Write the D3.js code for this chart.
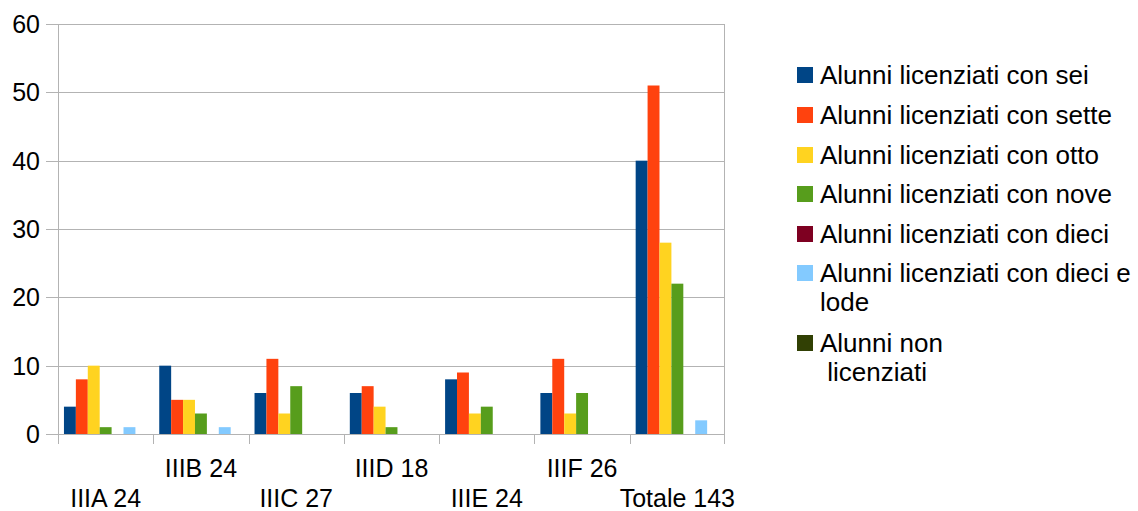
<!DOCTYPE html>
<html>
<head>
<meta charset="utf-8">
<script src="https://cdn.jsdelivr.net/npm/d3@7"></script>
<style>
  body { margin: 0; background: #fff; }
  text { font-family: "Liberation Sans", Arial, sans-serif; fill: #000; }
</style>
</head>
<body>
<script>
const categories = ["IIIA 24", "IIIB 24", "IIIC 27", "IIID 18", "IIIE 24", "IIIF 26", "Totale 143"];
const seriesNames = [
  "Alunni licenziati con sei",
  "Alunni licenziati con sette",
  "Alunni licenziati con otto",
  "Alunni licenziati con nove",
  "Alunni licenziati con dieci",
  "Alunni licenziati con dieci e lode",
  "Alunni non licenziati"
];
const sei    = [4, 10, 6, 6, 8, 6, 40];
const sette  = [8, 5, 11, 7, 9, 11, 51];
const otto   = [10, 5, 3, 4, 3, 3, 28];
const nove   = [1, 3, 7, 1, 4, 6, 22];
const dieci  = [0, 0, 0, 0, 0, 0, 0];
const lode   = [1, 1, 0, 0, 0, 0, 2];
const nonLic = [0, 0, 0, 0, 0, 0, 0];
const yTicks = [0, 10, 20, 30, 40, 50, 60];
const colors = ["#004586", "#ff420e", "#ffd320", "#579d1c", "#7e0021", "#83caff", "#314004"];

const series = [sei, sette, otto, nove, dieci, lode, nonLic];
// legend entries wrap the way the original does
const legendLines = [
  ["Alunni licenziati con sei"],
  ["Alunni licenziati con sette"],
  ["Alunni licenziati con otto"],
  ["Alunni licenziati con nove"],
  ["Alunni licenziati con dieci"],
  ["Alunni licenziati con dieci e", "lode"],
  ["Alunni non", " licenziati"]
];

const w = 1138, h = 511;
const plotLeft = 58, plotRight = 725, plotTop = 24, plotBottom = 434;

const svg = d3.select("body").append("svg")
  .attr("width", w)
  .attr("height", h);

const x = d3.scaleBand()
  .domain(categories)
  .range([plotLeft, plotRight])
  .paddingInner(0)
  .paddingOuter(0);

const sx = d3.scaleBand()
  .domain(d3.range(series.length))
  .range([0, x.bandwidth()])
  .paddingOuter(0.5)
  .paddingInner(0);

const y = d3.scaleLinear()
  .domain([0, 60])
  .range([plotBottom, plotTop]);

// gridlines (with the little tick to the left)
svg.append("g")
  .selectAll("line")
  .data(yTicks)
  .enter()
  .append("line")
  .attr("x1", plotLeft - 12)
  .attr("x2", plotRight)
  .attr("y1", d => Math.round(y(d)) + 0.5)
  .attr("y2", d => Math.round(y(d)) + 0.5)
  .attr("stroke", "#b3b3b3")
  .attr("stroke-width", 1);

// y axis line and right border
svg.append("line")
  .attr("x1", plotLeft + 0.5).attr("x2", plotLeft + 0.5)
  .attr("y1", plotTop).attr("y2", plotBottom)
  .attr("stroke", "#b3b3b3");
svg.append("line")
  .attr("x1", plotRight - 0.5).attr("x2", plotRight - 0.5)
  .attr("y1", plotTop).attr("y2", plotBottom)
  .attr("stroke", "#b3b3b3");

// y labels
svg.append("g")
  .selectAll("text")
  .data(yTicks)
  .enter()
  .append("text")
  .attr("x", 40)
  .attr("y", d => y(d) + 9)
  .attr("text-anchor", "end")
  .style("font-size", "25px")
  .text(d => d);

// bars
series.forEach((vals, si) => {
  svg.append("g")
    .selectAll("rect")
    .data(vals)
    .enter()
    .append("rect")
    .attr("x", (d, i) => x(categories[i]) + sx(si))
    .attr("y", d => y(d))
    .attr("width", sx.bandwidth())
    .attr("height", d => plotBottom - y(d))
    .attr("fill", colors[si]);
});

// x axis
const xAxis = d3.axisBottom(x).tickSize(0).tickFormat("");
svg.append("g")
  .attr("transform", "translate(0," + (plotBottom + 0.5) + ")")
  .call(xAxis)
  .call(g => g.select(".domain").attr("stroke", "#b3b3b3").attr("d", "M" + plotLeft + ",0H" + plotRight));

// category boundary ticks
const bounds = categories.map(c => x(c)).concat([plotRight - 1]);
svg.append("g")
  .selectAll("line")
  .data(bounds)
  .enter()
  .append("line")
  .attr("x1", d => Math.round(d) + 0.5)
  .attr("x2", d => Math.round(d) + 0.5)
  .attr("y1", plotBottom)
  .attr("y2", plotBottom + 10)
  .attr("stroke", "#b3b3b3");

// staggered category labels
svg.append("g")
  .selectAll("text")
  .data(categories)
  .enter()
  .append("text")
  .attr("x", d => x(d) + x.bandwidth() / 2)
  .attr("y", (d, i) => i % 2 === 0 ? 507 : 477)
  .attr("text-anchor", "middle")
  .style("font-size", "25px")
  .text(d => d);

// legend
const rowY = [75, 115, 155, 194, 234, 273, 343];
const legend = svg.append("g");
legendLines.forEach((lines, i) => {
  legend.append("rect")
    .attr("x", 797)
    .attr("y", rowY[i] - 8)
    .attr("width", 16)
    .attr("height", 16)
    .attr("fill", colors[i]);
  lines.forEach((t, j) => {
    legend.append("text")
      .attr("x", 820)
      .attr("y", rowY[i] + 9 + j * 29)
      .attr("xml:space", "preserve")
      .style("white-space", "pre")
      .style("font-size", "26px")
      .text(t);
  });
});
</script>
</body>
</html>
